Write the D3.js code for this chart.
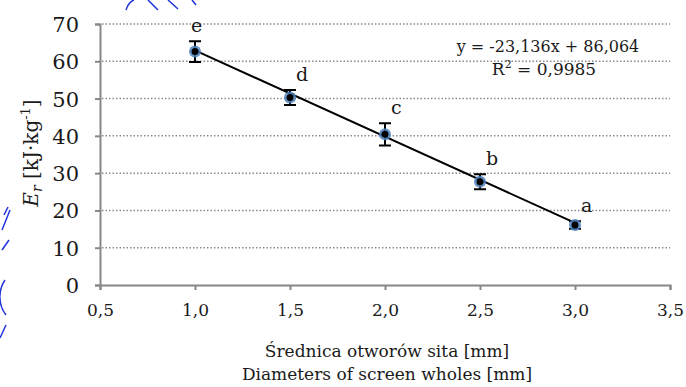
<!DOCTYPE html>
<html>
<head>
<meta charset="utf-8">
<script src="https://cdn.jsdelivr.net/npm/d3@7"></script>
<style>
  body { margin: 0; background: #fff; }
  text { font-family: "DejaVu Serif", "Liberation Serif", serif; fill: #1a1a1a; }
</style>
</head>
<body>
<figure id="chart" style="margin:0"></figure>
<script>
// data
const diameters = [1.0, 1.5, 2.0, 2.5, 3.0];
const energy = [62.6, 50.3, 40.4, 27.7, 16.1];
const errors = [2.8, 2.0, 3.0, 2.0, 1.0];
const letters = ["e", "d", "c", "b", "a"];
const xTicks = [0.5, 1.0, 1.5, 2.0, 2.5, 3.0, 3.5];
const yTicks = [0, 10, 20, 30, 40, 50, 60, 70];
const slope = -23.136, intercept = 86.064;

const width = 686, height = 387;
const svg = d3.select("figure#chart")
  .append("svg")
  .attr("width", width)
  .attr("height", height);

const x = d3.scaleLinear().domain([0.5, 3.5]).range([100, 670]);
const y = d3.scaleLinear().domain([0, 70]).range([285, 24]);
const fmt = d => d3.format(".1f")(d).replace(".", ",");

// gridlines
svg.append("g")
  .selectAll("line")
  .data(yTicks.filter(d => d > 0))
  .enter()
  .append("line")
  .attr("x1", x(0.5) + 2)
  .attr("x2", x(3.5))
  .attr("y1", d => y(d))
  .attr("y2", d => y(d))
  .style("stroke", "#8a8a8a")
  .style("stroke-width", 1.5)
  .style("stroke-dasharray", "1.5,2");

// axes
const yAxis = svg.append("g")
  .attr("transform", "translate(" + x(0.5) + ",0)")
  .call(d3.axisLeft(y).tickValues(yTicks).tickSize(5).tickPadding(16).tickFormat(d3.format("d")));
const xAxis = svg.append("g")
  .attr("transform", "translate(0," + y(0) + ")")
  .call(d3.axisBottom(x).tickValues(xTicks).tickSize(5).tickPadding(14).tickFormat(fmt));
[xAxis, yAxis].forEach(a => {
  a.attr("font-family", null);
  a.select(".domain").style("stroke", "#878787").style("stroke-width", 2);
  a.selectAll(".tick line").style("stroke", "#878787").style("stroke-width", 2);
  a.selectAll("text").style("fill", "#1a1a1a");
});
yAxis.selectAll("text").style("font-size", "21px").attr("dy", "0.36em");
xAxis.selectAll("text").style("font-size", "17px");

// regression line
svg.append("line")
  .attr("x1", x(1.0)).attr("y1", y(slope * 1.0 + intercept))
  .attr("x2", x(3.0)).attr("y2", y(slope * 3.0 + intercept))
  .style("stroke", "#000")
  .style("stroke-width", 2);

const pts = diameters.map((d, i) => ({ x: d, y: energy[i], e: errors[i], l: letters[i] }));

// error bars
const bars = svg.append("g");
bars.selectAll("path")
  .data(pts)
  .enter()
  .append("path")
  .attr("d", d => {
    const cx = x(d.x), t = y(d.y + d.e), b = y(d.y - d.e);
    return "M" + (cx - 6) + "," + t + "H" + (cx + 6) + "M" + cx + "," + t + "V" + b + "M" + (cx - 6) + "," + b + "H" + (cx + 6);
  })
  .style("fill", "none")
  .style("stroke", "#000")
  .style("stroke-width", 2);

// dots
const dots = svg.append("g");
dots.selectAll("circle.halo")
  .data(pts)
  .enter()
  .append("circle")
  .attr("class", "halo")
  .attr("cx", d => x(d.x))
  .attr("cy", d => y(d.y))
  .attr("r", 6)
  .style("fill", "#4f81bd")
  .style("opacity", 0.85);
dots.selectAll("circle.core")
  .data(pts)
  .enter()
  .append("circle")
  .attr("class", "core")
  .attr("cx", d => x(d.x))
  .attr("cy", d => y(d.y))
  .attr("r", 3.5)
  .style("fill", "#000");

// letter labels
dots.selectAll("text")
  .data(pts)
  .enter()
  .append("text")
  .text(d => d.l)
  .attr("x", d => x(d.x) + (d.l === "e" ? -4 : 6))
  .attr("y", d => y(d.y + d.e) - 9)
  .style("font-size", "19px");

// equation
svg.append("text").attr("x", 548).attr("y", 52).attr("text-anchor", "middle")
  .style("font-size", "16px").text("y = -23,136x + 86,064");
const r2 = svg.append("text").attr("x", 544).attr("y", 75).attr("text-anchor", "middle")
  .style("font-size", "17px");
r2.append("tspan").text("R");
r2.append("tspan").attr("dy", -7).style("font-size", "11px").text("2");
r2.append("tspan").attr("dy", 7).text(" = 0,9985");

// y title
const yt = svg.append("text")
  .attr("transform", "translate(38,153) rotate(-90)")
  .attr("text-anchor", "middle")
  .style("font-size", "20px");
yt.append("tspan").style("font-style", "italic").text("E");
yt.append("tspan").style("font-style", "italic").style("font-size", "14px").attr("dy", 4).text("r");
yt.append("tspan").attr("dy", -4).text(" [kJ·kg");
yt.append("tspan").attr("dy", -8).style("font-size", "13px").text("-1");
yt.append("tspan").attr("dy", 8).text("]");

// x title
svg.append("text").attr("x", 387).attr("y", 357).attr("text-anchor", "middle")
  .style("font-size", "17px").text("Średnica otworów sita [mm]");
svg.append("text").attr("x", 387).attr("y", 380).attr("text-anchor", "middle")
  .style("font-size", "17px").text("Diameters of screen wholes  [mm]");

// blue pen marks from the scan
const pen = svg.append("g").style("fill", "none").style("stroke", "#2233dd").style("stroke-width", 1.5);
pen.append("path").attr("d", "M126,10 C128,4 131,1 134,0 M148,0 L158,10 M168,0 L178,9 M192,0 L196,5");
pen.append("path").attr("d", "M2,230 L10,210 M2,250 L9,240 M5,280 C-2,290 -2,305 6,315 M6,325 L0,338 M4,215 L8,207");
</script>
</body>
</html>
